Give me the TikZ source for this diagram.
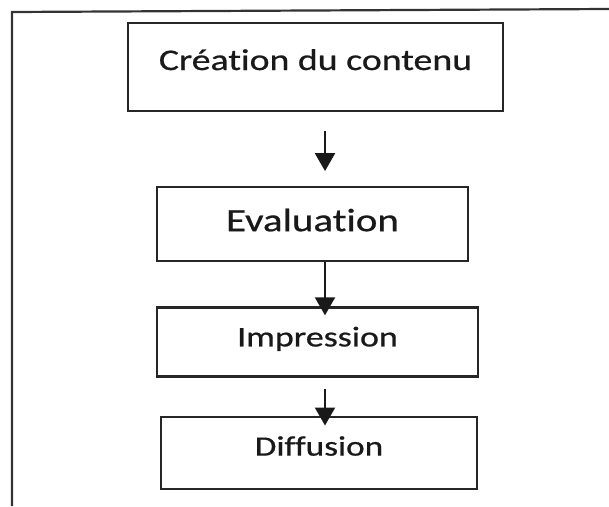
\documentclass[tikz,border=0pt]{standalone}
\usepackage{fontspec}
\setmainfont{Carlito}[FakeStretch=1.26, FakeBold=0.7, Ligatures=NoCommon]
\usepackage{tikz}
\usetikzlibrary{arrows.meta, positioning}

\begin{document}
\begin{tikzpicture}[
    x=1pt, y=1pt,
    box/.style={draw=black!85, line width=2.2pt, inner sep=0pt,
                align=center, text=black!90},
    arrow/.style={-{Triangle[width=20pt, length=18pt]}, line width=2.2pt,
                  black!90},
    frame/.style={draw=black!80, line width=2.2pt}
  ]
  \useasboundingbox (0,0) rectangle (609,-506);

  % Outer frame (cut off on the right and bottom)
  \draw[frame] (12,-506) -- (12,-12) -- (609,-9);

  % Nodes
  \node[box, minimum width=375pt, minimum height=88pt,
        font=\fontsize{30}{36}\selectfont, text height=20pt, text depth=14pt]
        (creation) at (315.5,-67) {Création du contenu};
  \node[box, minimum width=311pt, minimum height=74pt,
        font=\fontsize{32.5}{38}\selectfont, text height=20pt, text depth=6pt,
        below=74pt of creation, xshift=-3pt] (evaluation) {Evaluation};
  \node[box, minimum width=321pt, minimum height=69pt,
        font=\fontsize{28.5}{34}\selectfont, text height=18pt, text depth=9pt,
        below=44pt of evaluation, xshift=5pt] (impression) {Impression};
  \node[box, minimum width=316pt, minimum height=72pt,
        font=\fontsize{28}{34}\selectfont, text height=18pt, text depth=12pt,
        below=38pt of impression, xshift=1.5pt] (diffusion) {Diffusion};

  % Arrows
  \draw[arrow] ([shift={(9.5pt,-19pt)}]creation.south)
            -- ([shift={(12.5pt,15pt)}]evaluation.north);
  \draw[arrow] ([xshift=12.5pt]evaluation.south)
            -- ([shift={(7.5pt,-9pt)}]impression.north);
  \draw[arrow] ([shift={(7.5pt,-11pt)}]impression.south)
            -- ([shift={(6pt,-10pt)}]diffusion.north);
\end{tikzpicture}
\end{document}
